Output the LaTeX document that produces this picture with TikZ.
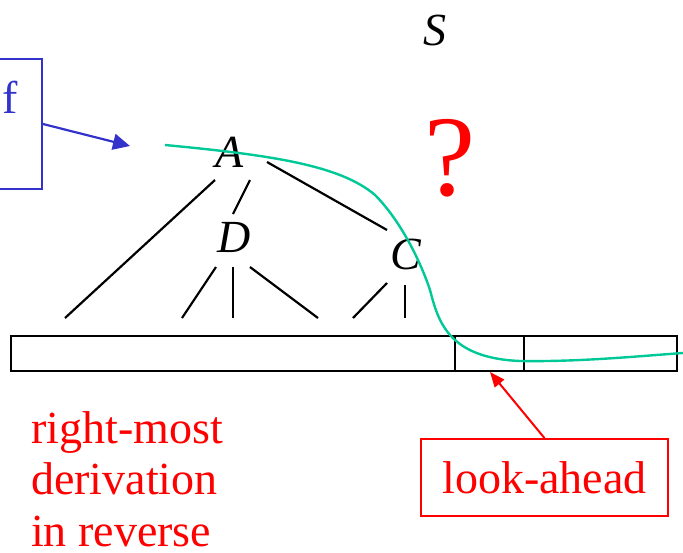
\documentclass[tikz,border=0pt]{standalone}
\usepackage{fontspec}
\setmainfont{Liberation Serif}
\usetikzlibrary{arrows.meta}
\definecolor{curvegreen}{RGB}{0,200,150}
\definecolor{fblue}{RGB}{51,51,204}
\begin{document}
\begin{tikzpicture}[x=1pt,y=-1pt,
  treeline/.style={line width=2.2pt, black},
  sym/.style={font=\fontsize{46}{52}\selectfont\itshape, inner sep=0pt, anchor=base},
  cell/.style={draw, line width=2pt, inner sep=0pt, outer sep=0pt, minimum height=35pt, anchor=north west},
  redtxt/.style={text=red, font=\fontsize{46}{51.5}\selectfont, inner sep=0pt}
]
\clip (0,0) rectangle (683,552);
% letters
\node[sym] (S) at (435,45) {S};
\node[sym] (A) at (230,167) {A};
\node[sym] (D) at (234,252) {D};
\node[sym] (C) at (406,269) {C};
\node[text=red, font=\fontsize{115}{120}\selectfont, inner sep=0pt, anchor=base] (q) at (450,195) {?};
% tree line end points
\coordinate (a1) at (215,180); \coordinate (l1) at (65,318);
\coordinate (a2) at (250,180); \coordinate (d0) at (233,214);
\coordinate (a3) at (267,162); \coordinate (c0) at (387,230);
\coordinate (d1) at (216,267); \coordinate (l2) at (182,318);
\coordinate (d2) at (233,267); \coordinate (l3) at (233,318);
\coordinate (d3) at (250,267); \coordinate (l4) at (318,318);
\coordinate (c1) at (387,283); \coordinate (l5) at (353,318);
\coordinate (c2) at (405,285); \coordinate (l6) at (405,318);
\draw[treeline] (a1) -- (l1);
\draw[treeline] (a2) -- (d0);
\draw[treeline] (a3) -- (c0);
\draw[treeline] (d1) -- (l2);
\draw[treeline] (d2) -- (l3);
\draw[treeline] (d3) -- (l4);
\draw[treeline] (c1) -- (l5);
\draw[treeline] (c2) -- (l6);
% input strip
\node[cell, minimum width=444pt] (cell1) at (11,336) {};
\node[cell, minimum width=69pt] (cell2) at (455,336) {};
\node[cell, minimum width=153pt] (cell3) at (524,336) {};
% green curve
\coordinate (g0) at (165,145);
\coordinate (g4) at (683,353);
\draw[curvegreen, line width=2.4pt] (g0) .. controls (270,155) and (340,165) .. (375,195)
  .. controls (400,220) and (420,260) .. (430,290)
  .. controls (438,320) and (447,358) .. (520,361)
  .. controls (580,362) and (640,356) .. (g4);
% blue box with f
\node[draw=fblue, line width=2pt, minimum width=62pt, minimum height=130pt, inner sep=0pt] (fbox) at (11,124) {};
\node[text=fblue, font=\fontsize{46}{52}\selectfont, inner sep=0pt, anchor=base] (f) at (10,113) {f};
\coordinate (btip) at (130,146);
\draw[fblue, line width=2.2pt, -{Triangle[length=17pt,width=16pt]}] (fbox.east) -- (btip);
% look-ahead box
\node[draw=red, line width=1.8pt, text=red, font=\fontsize{46}{52}\selectfont, minimum width=247pt, minimum height=77pt, inner sep=0pt] (look) at (544.5,477.5) {look-ahead};
\coordinate (rtip) at (490,372);
\draw[red, line width=2pt, -{Triangle[length=15pt,width=12pt]}] (look.north) -- (rtip);
% red text
\node[redtxt, anchor=north west, align=left] (rm) at (31,411) {right-most\\derivation\\in reverse};
\end{tikzpicture}
\end{document}
